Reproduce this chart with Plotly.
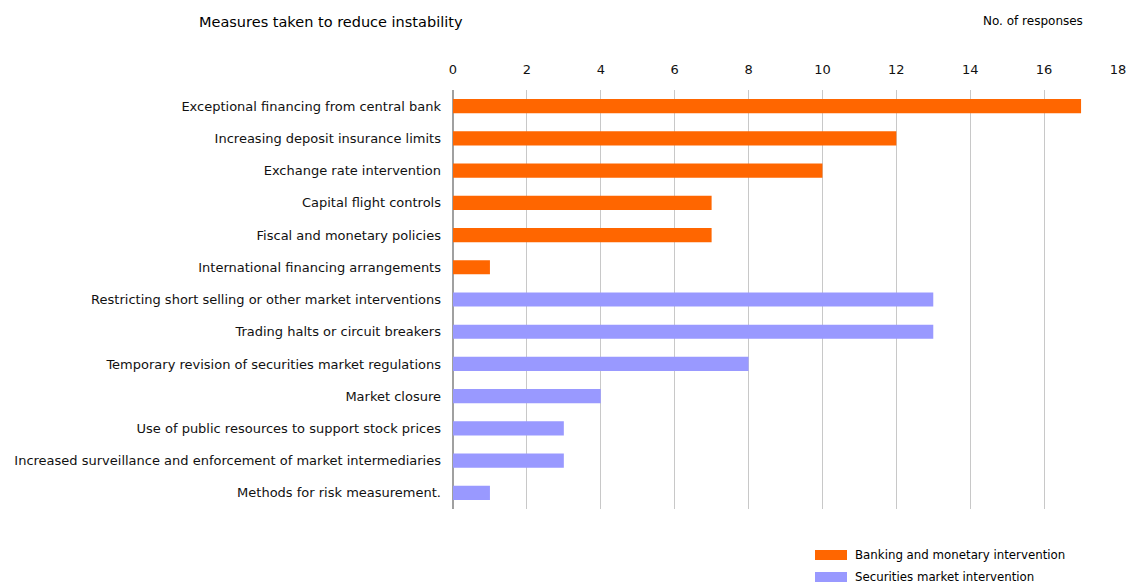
import plotly.graph_objects as go

banking_labels = [
    "Exceptional financing from central bank",
    "Increasing deposit insurance limits",
    "Exchange rate intervention",
    "Capital flight controls",
    "Fiscal and monetary policies",
    "International financing arrangements",
]
banking_values = [17, 12, 10, 7, 7, 1]

securities_labels = [
    "Restricting short selling or other market interventions",
    "Trading halts or circuit breakers",
    "Temporary revision of securities market regulations",
    "Market closure",
    "Use of public resources to support stock prices",
    "Increased surveillance and enforcement of market intermediaries",
    "Methods for risk measurement.",
]
securities_values = [13, 13, 8, 4, 3, 3, 1]

x_ticks = [0, 2, 4, 6, 8, 10, 12, 14, 16, 18]

series_names = ["Banking and monetary intervention", "Securities market intervention"]
series_colors = ["#FF6600", "#9999FF"]

font_family = "DejaVu Sans, Liberation Sans, Arial, sans-serif"

W, H = 1127, 583
pl, pr, pt, pb = 453, 9, 90, 74
pw, ph = W - pl - pr, H - pt - pb


def px(xp):
    return (xp - pl) / pw


def py(yp):
    return (H - pb - yp) / ph


fig = go.Figure()
fig.add_trace(go.Bar(
    y=banking_labels, x=banking_values, orientation="h",
    name=series_names[0], showlegend=False,
    marker=dict(color=series_colors[0], line=dict(width=0)), width=0.44,
))
fig.add_trace(go.Bar(
    y=securities_labels, x=securities_values, orientation="h",
    name=series_names[1], showlegend=False,
    marker=dict(color=series_colors[1], line=dict(width=0)), width=0.44,
))

fig.update_layout(
    width=W, height=H,
    margin=dict(l=pl, r=pr, t=pt, b=pb, autoexpand=False),
    paper_bgcolor="white", plot_bgcolor="white",
    barmode="overlay",
    font=dict(family=font_family, size=13, color="#111111"),
    showlegend=False,
    xaxis=dict(
        side="top", range=[0, 18], tickvals=x_ticks,
        showgrid=True, gridcolor="#C8C8C8", gridwidth=1,
        zeroline=True, zerolinecolor="#A0A0A0", zerolinewidth=2,
        showline=False, ticks="", ticklabelstandoff=12,
        tickfont=dict(size=13), ticklabeloverflow="allow",
        fixedrange=True,
    ),
    yaxis=dict(
        categoryorder="array",
        categoryarray=banking_labels + securities_labels,
        autorange="reversed",
        showgrid=False, showline=False, ticks="",
        ticklabelstandoff=11,
        tickfont=dict(size=13),
    ),
)

fig.add_annotation(text="Measures taken to reduce instability", x=px(197), y=py(22),
                   xref="paper", yref="paper", xanchor="left", yanchor="middle",
                   showarrow=False, font=dict(size=14.5, color="#000000"))
fig.add_annotation(text="No. of responses", x=px(1085), y=py(21),
                   xref="paper", yref="paper", xanchor="right", yanchor="middle",
                   showarrow=False, font=dict(size=12, color="#000000"))

# manual legend (bottom right)
legend_y = [555, 577]
for name, color, yc in zip(series_names, series_colors, legend_y):
    fig.add_shape(type="rect", xref="paper", yref="paper",
                  x0=px(815), x1=px(847), y0=py(yc - 5), y1=py(yc + 5),
                  fillcolor=color, line=dict(width=0))
    fig.add_annotation(text=name, x=px(853), y=py(yc), xref="paper", yref="paper",
                       xanchor="left", yanchor="middle", showarrow=False,
                       font=dict(size=11.8, color="#000000"))

fig.write_html(
    "out.html",
    config={"displayModeBar": False},
    post_script="document.body.style.margin='0px';document.body.style.overflow='hidden';",
)
